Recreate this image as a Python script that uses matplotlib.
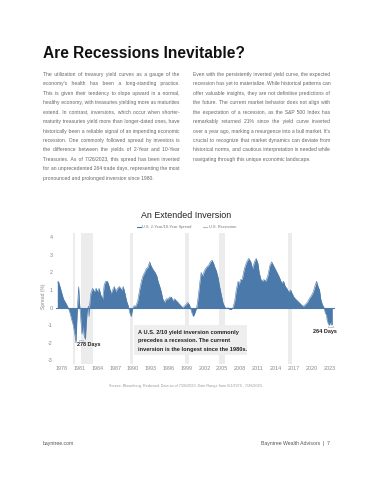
import matplotlib
matplotlib.use("Agg")
import matplotlib.pyplot as plt
from matplotlib.lines import Line2D
from matplotlib.patches import Rectangle

plt.rcParams['font.family'] = ['Liberation Sans', 'DejaVu Sans']

# dados (anos na escala do eixo, spread em %)
anos = [1977.27, 1977.45, 1977.72, 1978.3, 1978.8, 1979.1, 1979.4, 1979.7, 1979.95, 1980.2,
        1980.4, 1980.5, 1980.65, 1980.85, 1981.0, 1981.18, 1981.4, 1981.6, 1981.77, 1982.0,
        1982.15, 1982.3, 1982.5, 1982.6, 1982.72, 1982.9, 1983.2, 1983.5, 1983.8, 1984.05,
        1984.3, 1984.6, 1984.9, 1985.15, 1985.4, 1985.7, 1986.0, 1986.3, 1986.55, 1986.85,
        1987.1, 1987.4, 1987.7, 1988.1, 1988.35, 1988.65, 1988.9, 1989.2, 1989.45, 1989.7,
        1989.9, 1990.15, 1990.5, 1990.8, 1991.1, 1991.4, 1991.65, 1991.95, 1992.2, 1992.5,
        1992.8, 1993.0, 1993.3, 1993.7, 1994.0, 1994.2, 1994.5, 1994.75, 1995.0, 1995.3,
        1995.6, 1995.9, 1996.15, 1996.45, 1996.7, 1997.0, 1997.25, 1997.55, 1997.8, 1998.1,
        1998.35, 1998.65, 1998.95, 1999.2, 1999.5, 1999.9, 2000.15, 2000.4, 2000.7, 2000.95,
        2001.25, 2001.45, 2001.7, 2002.0, 2002.35, 2002.7, 2003.0, 2003.3, 2003.55, 2003.75,
        2004.0, 2004.3, 2004.55, 2004.85, 2005.1, 2005.4, 2005.7, 2006.0, 2006.2, 2006.5,
        2006.8, 2007.1, 2007.35, 2007.65, 2007.8, 2008.1, 2008.35, 2008.7, 2009.1, 2009.45,
        2009.8, 2010.1, 2010.4, 2010.7, 2011.0, 2011.2, 2011.5, 2011.75, 2012.0, 2012.3,
        2012.65, 2013.0, 2013.3, 2013.6, 2013.9, 2014.2, 2014.5, 2014.75, 2015.0, 2015.3,
        2015.6, 2015.85, 2016.15, 2016.5, 2016.75, 2017.05, 2017.3, 2017.6, 2017.9, 2018.2,
        2018.5, 2018.75, 2019.0, 2019.3, 2019.6, 2020.0, 2020.3, 2020.55, 2020.85, 2021.1,
        2021.35, 2021.55, 2021.8, 2022.1, 2022.3, 2022.5, 2022.62, 2022.8, 2023.0, 2023.2,
        2023.4, 2023.5]
spread = [1.4, 1.5, 1.2, 0.5, 0.2, 0.0, -0.3, -0.7, -1.0, -1.5,
          -2.0, -1.2, 0.0, 1.2, 0.3, -0.5, -1.5, -1.0, -1.6, -1.8,
          -0.8, -0.2, 0.1, -0.5, 0.2, 0.8, 1.1, 0.9, 1.1, 0.9,
          1.1, 0.7, 0.5, 1.3, 1.5, 1.5, 1.2, 0.8, 1.0, 1.2,
          0.9, 1.1, 1.2, 1.0, 1.2, 0.8, 0.4, 0.1, -0.3, -0.5,
          -0.1, 0.1, 0.1, 0.4, 1.0, 1.5, 1.8, 2.0, 2.2, 2.3,
          2.6, 2.4, 2.2, 2.0, 1.8, 1.5, 1.2, 0.9, 0.5, 0.3,
          0.5, 0.5, 0.6, 0.6, 0.4, 0.5, 0.4, 0.3, 0.2, 0.1,
          0.0, 0.1, 0.2, 0.3, 0.15, -0.3, -0.5, -0.3, 0.0, 0.6,
          1.5, 2.0, 1.8, 2.1, 2.3, 2.4, 2.6, 2.7, 2.5, 2.3,
          2.1, 1.7, 1.2, 0.7, 0.3, 0.05, -0.05, 0.0, -0.1, -0.1,
          0.0, 0.4, 1.0, 1.5, 1.3, 1.6, 1.6, 2.2, 2.6, 2.8,
          2.6, 2.2, 2.6, 2.8, 2.5, 2.0, 1.6, 1.5, 1.6, 1.5,
          1.8, 2.4, 2.6, 2.4, 2.2, 2.0, 1.8, 1.6, 1.4, 1.5,
          1.2, 1.1, 0.9, 1.0, 0.8, 0.6, 0.5, 0.4, 0.3, 0.2,
          0.1, 0.1, 0.2, 0.3, 0.5, 0.7, 0.9, 1.2, 1.5, 1.2,
          1.0, 0.5, 0.2, 0.0, -0.3, -0.4, -0.7, -0.9, -1.0, -0.8,
          -1.0, -0.9]
# faixas de recessao como aparecem no grafico
recessoes = [(1979.96, 1980.29), (1981.18, 1983.31), (1989.45, 1990.01),
             (1998.8, 1999.4), (2004.52, 2005.54), (2016.0, 2016.75)]
anos_ticks = list(range(1978, 2024, 3))
y_ticks = [4, 3, 2, 1, 0, -1, -2, -3]

texto_esq = [
    "The utilization of treasury yield curves as a gauge of the",
    "economy's health has been a long-standing practice.",
    "This is given their tendency to slope upward in a normal,",
    "healthy economy, with treasuries yielding more as maturities",
    "extend. In contrast, inversions, which occur when shorter-",
    "maturity treasuries yield more than longer-dated ones, have",
    "historically been a reliable signal of an impending economic",
    "recession. One commonly followed spread by investors is",
    "the difference between the yields of 2-Year and 10-Year",
    "Treasuries. As of 7/26/2023, this spread has been inverted",
    "for an unprecedented 264 trade days, representing the most",
    "pronounced and prolonged inversion since 1980.",
]
texto_dir = [
    "Even with the persistently inverted yield curve, the expected",
    "recession has yet to materialize. While historical patterns can",
    "offer valuable insights, they are not definitive predictions of",
    "the future. The current market behavior does not align with",
    "the expectation of a recession, as the S&P 500 Index has",
    "remarkably returned 21% since the yield curve inverted",
    "over a year ago, marking a resurgence into a bull market. It's",
    "crucial to recognize that market dynamics can deviate from",
    "historical norms, and cautious interpretation is needed while",
    "navigating through this unique economic landscape.",
]
nota = ["A U.S. 2/10 yield inversion commonly",
        "precedes a recession. The current",
        "inversion is the longest since the 1980s."]

W, H = 373, 480
fig = plt.figure(figsize=(W / 100, H / 100), dpi=100)
fig.patch.set_facecolor("white")
renderer = fig.canvas.get_renderer()


def fx(px):
    return px / W


def fy(py):
    return 1 - py / H


def largura(s, size):
    t = fig.text(0, 0, s, fontsize=size)
    w = t.get_window_extent(renderer).width
    t.remove()
    return w


def justificado(linhas, x0, x1, y0, passo, size, color):
    # cada linha vira um texto so; completa os espacos com hair spaces
    hair = largura("a" + "\u200a" * 10 + "a", size) - largura("aa", size)
    hair = hair / 10
    for i, linha in enumerate(linhas):
        palavras = linha.split()
        s = linha
        if i < len(linhas) - 1 and hair > 0:
            falta = (x1 - x0) - largura(linha, size)
            gaps = len(palavras) - 1
            total = max(0, int(round(falta / hair)))
            partes = []
            for g in range(gaps):
                k = total // gaps + (1 if g < total % gaps else 0)
                partes.append(palavras[g] + " " + "\u200a" * k)
            s = "".join(partes) + palavras[-1]
        fig.text(fx(x0), fy(y0 + i * passo), s, fontsize=size, color=color,
                 va="center")


fig.text(fx(43), fy(54), "Are Recessions Inevitable?", fontsize=11.2,
         fontweight="bold", color="#111111", va="center")
justificado(texto_esq, 43, 179.5, 74.3, 9.45, 3.6, "#666666")
justificado(texto_dir, 193, 330, 74.3, 9.45, 3.6, "#666666")

fig.text(fx(186), fy(216), "An Extended Inversion", fontsize=6.4,
         color="#222222", ha="center", va="center")
# legenda
azul = "#4b79aa"
fig.add_artist(Line2D([fx(137), fx(141)], [fy(227), fy(227)], color=azul, lw=0.8))
fig.text(fx(142), fy(227), "U.S. 2-Year/10-Year Spread", fontsize=2.9,
         color="#777777", va="center")
fig.add_artist(Line2D([fx(203), fx(207)], [fy(227), fy(227)], color="#bbbbbb", lw=0.8))
fig.text(fx(208.5), fy(227), "U.S. Recession", fontsize=2.9,
         color="#777777", va="center")

ax = fig.add_axes([fx(56), fy(364), fx(335) - fx(56), (364 - 233) / H])
for ini, fim in recessoes:
    ax.axvspan(ini, fim, color="#ececec", lw=0, zorder=0)
ax.fill_between(anos, spread, 0, color=azul, lw=0, zorder=2)
ax.plot(anos, spread, color=azul, lw=0.4, zorder=2)
ax.axhline(0, color=azul, lw=0.8, zorder=2)
ax.set_xlim(1977.05, 2023.95)
ax.set_ylim(-3.2, 4.24)
ax.set_xticks(anos_ticks)
ax.set_xticklabels([str(a) for a in anos_ticks], fontsize=3.9, color="#888888")
ax.set_yticks(y_ticks)
ax.set_yticklabels([str(v) for v in y_ticks], fontsize=3.9, color="#888888")
ax.tick_params(length=0, pad=1.5)
ax.tick_params(axis="y", pad=2.5)
for s in ax.spines.values():
    s.set_visible(False)
ax.patch.set_alpha(0)
fig.text(fx(44), fy(296), "Spread (%)", rotation=90, fontsize=3.6,
         color="#888888", ha="center", va="center")

# caixa de nota
ax.add_patch(Rectangle((1990.1, -2.69), 19.0, 1.71, facecolor="#eeeeee",
                       edgecolor="none", zorder=3))
for i, l in enumerate(nota):
    ax.text(1990.85, -1.4 - i * 0.48, l, fontsize=4.1, fontweight="bold",
            color="#222222", va="center", zorder=4)
ax.text(1980.55, -2.12, "278 Days", fontsize=4.0, fontweight="bold",
        color="#222222", va="center", zorder=4)
ax.text(2022.2, -1.38, "264 Days", fontsize=4.0, fontweight="bold",
        color="#222222", ha="center", va="center", zorder=4)
ax.plot([1980.95, 1980.95, 1981.6, 1981.6], [-1.9, -1.82, -1.82, -1.9],
        color="#999999", lw=0.4, zorder=4)
ax.plot([2022.75, 2022.75, 2023.6, 2023.6], [-1.02, -1.1, -1.1, -1.02],
        color="#999999", lw=0.4, zorder=4)

fig.text(fx(186), fy(386), "Source: Bloomberg, Redwood. Data as of 7/26/2023. "
         "Date Range from 6/1/1976 - 7/26/2023.", fontsize=2.7,
         color="#999999", ha="center", va="center")
fig.text(fx(43), fy(443), "bayntree.com", fontsize=3.7, color="#555555", va="center")
fig.text(fx(330), fy(443), "Bayntree Wealth Advisors  |  7", fontsize=3.7,
         color="#555555", ha="right", va="center")

fig.savefig("out.png", dpi=100, facecolor="white")
